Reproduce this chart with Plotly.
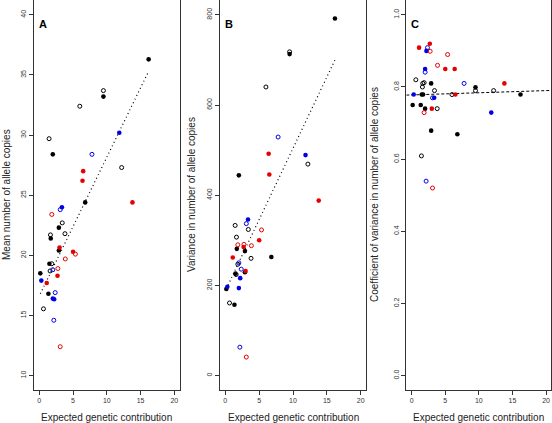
import plotly.graph_objects as go

# ---- data ----
# groups: bf = black filled, bo = black open, uf = blue filled, uo = blue open,
#         rf = red filled, ro = red open
bf_x    = [16.2, 9.5, 2.0, 6.8, 2.9, 1.7, 2.9, 1.5, 0.15, 1.35]
bf_mean = [36.3, 33.2, 28.4, 24.4, 22.3, 21.4, 20.4, 19.3, 18.5, 16.8]
bf_var  = [792, 713, 444, 263, 229, 281, 276, 226, 192, 157]
bf_cv   = [0.779, 0.799, 0.740, 0.669, 0.679, 0.779, 0.810, 0.779, 0.750, 0.750]

bo_x    = [9.5, 6.0, 1.45, 12.2, 3.4, 3.8, 1.65, 1.85, 1.6, 0.62]
bo_mean = [33.7, 32.4, 29.7, 27.3, 22.7, 21.8, 21.7, 19.3, 18.7, 15.55]
bo_var  = [718, 640, 333, 469, 324, 260, 307, 247, 224, 161]
bo_cv   = [0.790, 0.779, 0.609, 0.790, 0.790, 0.740, 0.810, 0.812, 0.800, 0.820]

uf_x    = [11.85, 3.35, 0.3, 2.2, 2.0]
uf_mean = [30.2, 24.0, 17.9, 16.35, 16.4]
uf_var  = [489, 346, 197, 216, 194]
uf_cv   = [0.729, 0.770, 0.779, 0.900, 0.850]

uo_x    = [7.8, 3.1, 2.0, 2.35, 2.15]
uo_mean = [28.4, 23.8, 18.8, 16.9, 14.6]
uo_var  = [529, 337, 250, 236, 63]
uo_cv   = [0.810, 0.770, 0.841, 0.909, 0.539]

rf_x    = [6.5, 6.4, 13.8, 3.0, 5.0, 2.7, 1.1]
rf_mean = [27.0, 26.2, 24.4, 20.65, 20.3, 18.3, 17.7]
rf_var  = [446, 492, 388, 232, 300, 285, 262]
rf_cv   = [0.779, 0.850, 0.810, 0.740, 0.850, 0.920, 0.909]

ro_x    = [1.85, 5.35, 3.85, 2.75, 3.1]
ro_mean = [23.4, 20.1, 19.7, 18.9, 12.4]
ro_var  = [290, 323, 288, 291, 41]
ro_cv   = [0.729, 0.890, 0.860, 0.899, 0.520]

# fitted trend lines (intercept, slope)
trend_mean = [16.63, 1.153]
trend_var = [188.0, 31.6]
trend_cv = [0.778, 0.0006]

x_ticks = [0, 5, 10, 15, 20]
mean_ticks = [10, 15, 20, 25, 30, 35, 40]
var_ticks = [0, 200, 400, 600, 800]
cv_ticks = [0.0, 0.2, 0.4, 0.6, 0.8, 1.0]

panel_labels = ["A", "B", "C"]
y_titles = ["Mean number of allele copies",
            "Variance in number of allele copies",
            "Coefficient of variance in number of allele copies"]
x_title = "Expected genetic contribution"

# ---- figure ----
BLACK, BLUE, RED = "#000000", "#0000E6", "#E60000"
groups = [
    (bf_x, bf_mean, bf_var, bf_cv, BLACK, True),
    (bo_x, bo_mean, bo_var, bo_cv, BLACK, False),
    (uf_x, uf_mean, uf_var, uf_cv, BLUE, True),
    (uo_x, uo_mean, uo_var, uo_cv, BLUE, False),
    (rf_x, rf_mean, rf_var, rf_cv, RED, True),
    (ro_x, ro_mean, ro_var, ro_cv, RED, False),
]

fig = go.Figure()
axes = [("x", "y"), ("x2", "y2"), ("x3", "y3")]

all_x = bf_x + bo_x + uf_x + uo_x + rf_x + ro_x
xmin, xmax = min(all_x), max(all_x)

dotted = dict(color="black", width=1.2, dash="1px,3px")
fig.add_trace(go.Scatter(x=[xmin, xmax],
                         y=[trend_mean[0] + trend_mean[1] * xmin, trend_mean[0] + trend_mean[1] * xmax],
                         mode="lines", line=dotted, xaxis="x", yaxis="y", hoverinfo="skip"))
fig.add_trace(go.Scatter(x=[xmin, xmax],
                         y=[trend_var[0] + trend_var[1] * xmin, trend_var[0] + trend_var[1] * xmax],
                         mode="lines", line=dotted, xaxis="x2", yaxis="y2", hoverinfo="skip"))
xr = [-0.8, 20.8]
fig.add_trace(go.Scatter(x=xr,
                         y=[trend_cv[0] + trend_cv[1] * xr[0], trend_cv[0] + trend_cv[1] * xr[1]],
                         mode="lines", line=dict(color="black", width=1, dash="3px,2px"),
                         xaxis="x3", yaxis="y3", hoverinfo="skip"))

for gx, gm, gv, gc, col, filled in groups:
    for (xa, ya), yv in zip(axes, [gm, gv, gc]):
        if filled:
            marker = dict(symbol="circle", size=4.6, color=col, line=dict(width=0))
        else:
            marker = dict(symbol="circle-open", size=4, color=col, line=dict(width=1, color=col))
        fig.add_trace(go.Scatter(x=gx, y=yv, mode="markers", marker=marker,
                                 xaxis=xa, yaxis=ya, cliponaxis=False))

W, H = 552, 423
x_domains = [[33.9 / W, 179.7 / W], [219.9 / W, 366.1 / W], [406.3 / W, 551.4 / W]]
y_domain = [(H - 390) / H, 0.999]

tickfont = dict(family="Liberation Sans, Arial, sans-serif", size=7, color="#333333")
common_x = dict(range=[-0.8, 20.8], tickvals=x_ticks, ticks="outside", ticklen=4,
                tickwidth=1, tickcolor="#333333", showline=True, mirror=True,
                linecolor="#333333", linewidth=1, showgrid=False, zeroline=False,
                tickfont=tickfont)
common_y = dict(ticks="outside", ticklen=4, tickwidth=1, tickcolor="#333333",
                showline=True, mirror=True, linecolor="#333333", linewidth=1,
                showgrid=False, zeroline=False, tickangle=-90, tickfont=tickfont,
                domain=y_domain)

layout = dict(width=W, height=H, margin=dict(l=0, r=0, t=0, b=0),
              paper_bgcolor="white", plot_bgcolor="white", showlegend=False,
              font=dict(family="Liberation Sans, Arial, sans-serif", color="#222222"))
layout["xaxis"] = dict(common_x, domain=x_domains[0], anchor="y")
layout["xaxis2"] = dict(common_x, domain=x_domains[1], anchor="y2")
layout["xaxis3"] = dict(common_x, domain=x_domains[2], anchor="y3")
layout["yaxis"] = dict(common_y, range=[8.8, 41.2], tickvals=mean_ticks, anchor="x")
layout["yaxis2"] = dict(common_y, range=[-32, 832], tickvals=var_ticks, anchor="x2")
layout["yaxis3"] = dict(common_y, range=[-0.04, 1.04], tickvals=cv_ticks,
                        tickformat=".1f", anchor="x3")
fig.update_layout(**layout)

ann = []
ytitle_x = [6, 191, 374]
label_x = [43, 229, 415]
for i in range(3):
    xc = (x_domains[i][0] + x_domains[i][1]) / 2
    ann.append(dict(text=x_title, x=xc, y=(H - 417) / H, xref="paper", yref="paper",
                    showarrow=False, xanchor="center", yanchor="middle",
                    font=dict(size=10, color="#222222")))
    ann.append(dict(text=y_titles[i], x=ytitle_x[i] / W, y=(H - 195) / H,
                    xref="paper", yref="paper", showarrow=False, textangle=-90,
                    xanchor="center", yanchor="middle",
                    font=dict(size=10, color="#222222")))
    ann.append(dict(text="<b>" + panel_labels[i] + "</b>", x=label_x[i] / W, y=(H - 24) / H,
                    xref="paper", yref="paper", showarrow=False,
                    xanchor="center", yanchor="middle",
                    font=dict(size=11, color="#000000")))
fig.update_layout(annotations=ann)

fig.write_html("out.html", config={"displayModeBar": False, "staticPlot": True},
               post_script="document.body.style.margin='0';document.body.style.padding='0';"
                           "document.body.style.overflow='hidden';")
